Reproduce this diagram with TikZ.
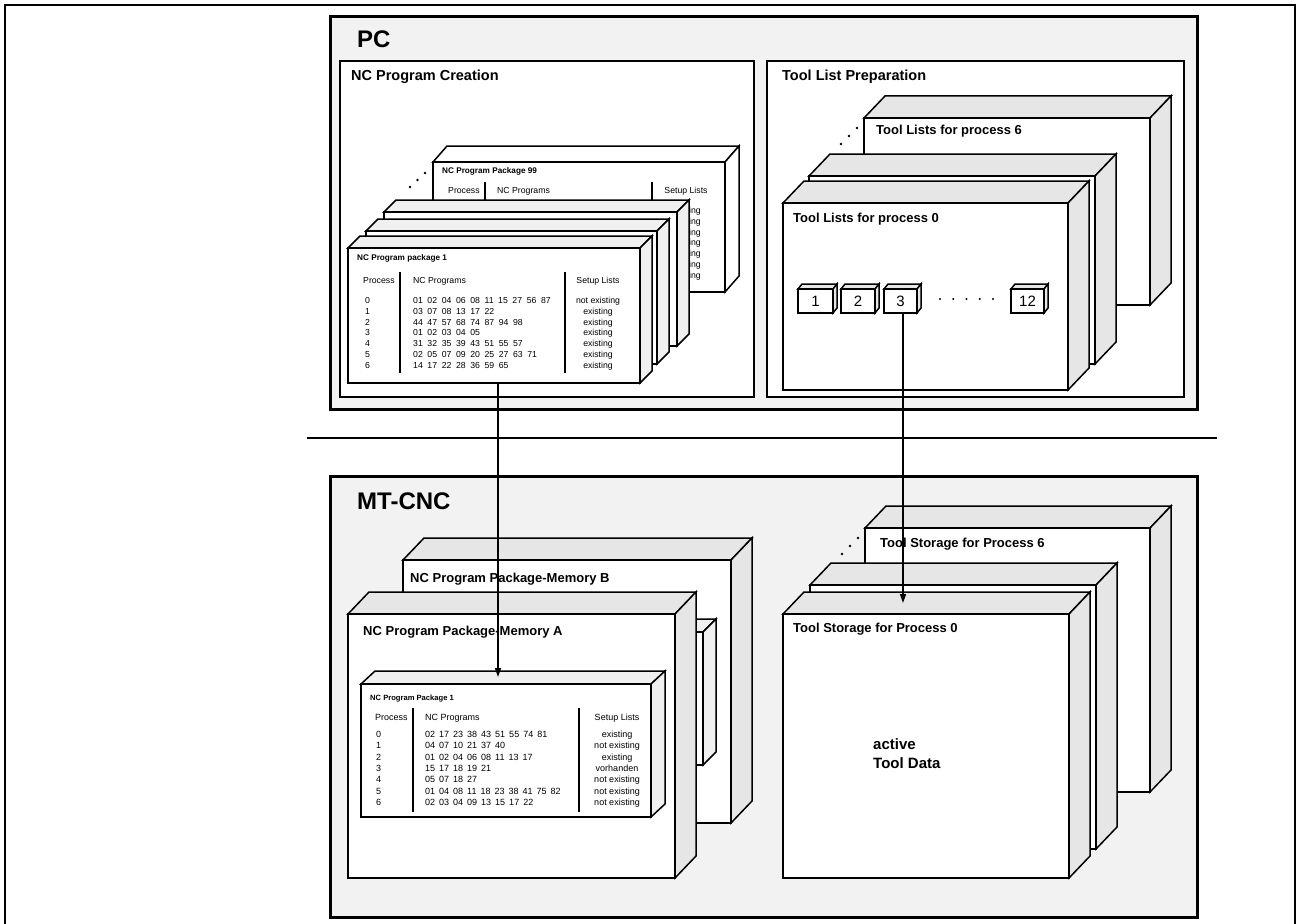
\documentclass[tikz,border=0pt]{standalone}
\usepackage{fontspec}
\setmainfont{Liberation Sans}
\usetikzlibrary{arrows.meta}

\definecolor{panel}{HTML}{F2F2F2}
\definecolor{face}{HTML}{E6E6E6}
\definecolor{lface}{HTML}{F0F0F0}

\newcommand\progsfontA{\fontsize{8.7}{10.8}\selectfont\spaceskip=4.6pt\relax}
\newcommand\progsfontM{\fontsize{9}{11.3}\selectfont\spaceskip=4pt\relax}

\tikzset{
  frame/.style={line width=1.8pt},
  section/.style={draw, line width=3pt, fill=panel},
  subsection/.style={draw, line width=1.8pt, fill=white},
  cubeline/.style={draw, line width=1.5pt},
  cubefront/.style={cubeline, fill=white, inner sep=0pt, outer sep=0pt},
  bigtitle/.style={font=\fontsize{24}{28}\selectfont\bfseries, inner sep=0pt, anchor=base west},
  title/.style={font=\fontsize{14.5}{17}\selectfont\bfseries, inner sep=0pt, anchor=base west},
  boxtitle/.style={font=\fontsize{13}{16}\selectfont\bfseries, inner sep=0pt, anchor=base west},
  pkgtitle/.style={font=\fontsize{8.2}{10}\selectfont\bfseries, inner sep=0pt, anchor=base west},
  pkgtitleM/.style={font=\fontsize{7.6}{10}\selectfont\bfseries, inner sep=0pt, anchor=base west},
  tblhead/.style={font=\fontsize{8.7}{10.8}\selectfont, inner sep=0pt, anchor=base west},
  tblheadM/.style={font=\fontsize{9}{11.3}\selectfont, inner sep=0pt, anchor=base west},
  tblN/.style={font=\fontsize{8.7}{10.8}\selectfont, inner sep=0pt, anchor=base west},
  tblA/.style={font=\fontsize{8.7}{10.8}\selectfont, inner sep=0pt, anchor=base west},
  progsA/.style={font=\progsfontA},
  tblM/.style={font=\fontsize{9}{11.3}\selectfont, inner sep=0pt, anchor=base west},
  progsM/.style={font=\progsfontM},
  tblrule/.style={line width=1.2pt},
  activetxt/.style={font=\fontsize{15}{19}\selectfont\bfseries, inner sep=0pt, anchor=base west},
  flow/.style={line width=1.5pt, -{Triangle[length=9pt,width=6pt]}},
  sep/.style={line width=1.5pt},
}

% rectangle node: style, name, x1, y1, x2, y2
\newcommand\rectnode[6]{%
  \node[#1, minimum width={(#5-#3)*1pt}, minimum height={(#6-#4)*1pt},
        anchor=north west, inner sep=0pt, outer sep=0pt] (#2) at (#3,#4) {};}

% 3D box: name, x1, y1, x2, y2, dx, dy, face colour, text
\newcommand\cubebox[9]{%
  \filldraw[cubeline, fill=#8] (#2,#3) -- (#2+#6,#3-#7) -- (#4+#6,#3-#7) -- (#4,#3) -- cycle;
  \filldraw[cubeline, fill=#8] (#4,#3) -- (#4+#6,#3-#7) -- (#4+#6,#5-#7) -- (#4,#5) -- cycle;
  \node[cubefront, minimum width={(#4-#2)*1pt}, minimum height={(#5-#3)*1pt},
        anchor=north west] (#1) at (#2,#3) {#9};}

\newcommand\toolnum{\fontsize{15}{18}\selectfont}

\begin{document}
\begin{tikzpicture}[x=1pt,y=-1pt]
\useasboundingbox (0,0) rectangle (1297,923);
\fill[white] (0,0) rectangle (1297,923);

% outer frame
\draw[frame] (5,930) -- (5,5) -- (1295,5) -- (1295,930);

% ================= PC =================
\rectnode{section}{pc}{330}{17}{1197}{409}
\node[bigtitle] (pctitle) at (357,48) {PC};

\rectnode{subsection}{nccreate}{340}{61}{754}{397}
\node[title] (nccreatetitle) at (351,81) {NC Program Creation};

\rectnode{subsection}{toolprep}{767}{61}{1184}{397}
\node[title] (toolpreptitle) at (782,81) {Tool List Preparation};

% --- package 99 (back)
\cubebox{pkgn}{433}{162}{725}{292}{14}{16}{white}{}
\node[pkgtitle] (pkgntitle) at (442,173) {NC Program Package 99};
\node[tblhead] (pkgnhproc) at (448,193) {Process};
\node[tblhead] (pkgnhprog) at (497,193) {NC Programs};
\node[tblhead, anchor=base] (pkgnhsetup) at (686,193) {Setup Lists};
\draw[tblrule] (485,182) -- (485,288);
\draw[tblrule] (652,182) -- (652,288);
\node[tblN, anchor=base] (pkgnsetup) at (686,213.5)
  {\begin{tabular}[t]{@{}c@{}}existing\\existing\\existing\\existing\\existing\\existing\\existing\end{tabular}};

% dots
\fill (410,187) circle[radius=1.3];
\fill (417.5,180) circle[radius=1.3];
\fill (425,173) circle[radius=1.3];

% --- intermediate packages
\cubebox{pkgc}{384}{212}{677}{346}{12}{12}{lface}{}
\cubebox{pkgb}{366}{231}{657}{364}{12}{12}{lface}{}

% --- package 1 (front)
\cubebox{pkga}{348}{248}{640}{383}{12}{12}{lface}{}
\node[pkgtitle] (pkgatitle) at (357,260) {NC Program package 1};
\node[tblhead] (pkgahproc) at (363,283) {Process};
\node[tblhead] (pkgahprog) at (413,283) {NC Programs};
\node[tblhead, anchor=base] (pkgahsetup) at (598,283) {Setup Lists};
\draw[tblrule] (400,272) -- (400,373);
\draw[tblrule] (565,272) -- (565,373);
\node[tblA] (pkgaproc) at (365,303.5)
  {\begin{tabular}[t]{@{}l@{}}0\\1\\2\\3\\4\\5\\6\end{tabular}};
\node[tblA, progsA] (pkgaprog) at (413,303.5)
  {\begin{tabular}[t]{@{}l@{}}01 02 04 06 08 11 15 27 56 87\\
   03 07 08 13 17 22\\
   44 47 57 68 74 87 94 98\\
   01 02 03 04 05\\
   31 32 35 39 43 51 55 57\\
   02 05 07 09 20 25 27 63 71\\
   14 17 22 28 36 59 65\end{tabular}};
\node[tblA, anchor=base] (pkgasetup) at (598,303.5)
  {\begin{tabular}[t]{@{}c@{}}not existing\\existing\\existing\\existing\\existing\\existing\\existing\end{tabular}};

% --- tool lists
\cubebox{tlsix}{864}{118}{1150}{305}{21}{22}{face}{}
\node[boxtitle] (tlsixtitle) at (876,135) {Tool Lists for process 6};
\fill (841,144) circle[radius=1.3];
\fill (849,136) circle[radius=1.3];
\fill (857,128) circle[radius=1.3];
\cubebox{tlmid}{809}{176}{1095}{364}{21}{22}{face}{}
\cubebox{tlzero}{783}{203}{1068}{390}{21}{22}{face}{}
\node[boxtitle] (tlzerotitle) at (793,222) {Tool Lists for process 0};

\cubebox{toolA}{798}{289}{833}{313}{4}{5}{face}{\toolnum 1}
\cubebox{toolB}{841}{289}{875}{313}{4}{5}{face}{\toolnum 2}
\cubebox{toolC}{884}{289}{917}{313}{4}{5}{face}{\toolnum 3}
\cubebox{toolL}{1011}{289}{1044}{313}{4}{5}{face}{\toolnum 12}
\foreach \dx in {940,953.25,966.5,979.75,993}
  \fill (\dx,299) circle[radius=1.2];

% separator
\draw[sep] (307,438) -- (1217,438);

% ================= MT-CNC =================
\rectnode{section}{mtcnc}{330}{476}{1197}{917}
\node[bigtitle] (mttitle) at (357,509) {MT-CNC};

% memory B
\cubebox{memb}{403}{560}{731}{823}{21}{22}{face}{}
\node[boxtitle] (membtitle) at (410,582) {NC Program Package-Memory B};
\cubebox{membpkg}{390}{632}{703}{765}{13}{13}{lface}{}

% memory A
\cubebox{mema}{348}{614}{675}{878}{21}{22}{face}{}
\node[boxtitle] (rematitle) at (363,635) {NC Program Package-Memory A};

% package in memory A
\cubebox{mempkg}{361}{684}{651}{817}{14}{13}{lface}{}
\node[pkgtitleM] (mempkgtitle) at (370,700) {NC Program Package 1};
\node[tblheadM] (mempkghproc) at (375,720) {Process};
\node[tblheadM] (mempkghprog) at (425,720) {NC Programs};
\node[tblheadM, anchor=base] (mempkghsetup) at (617,720) {Setup Lists};
\draw[tblrule] (413,708) -- (413,812);
\draw[tblrule] (579,708) -- (579,812);
\node[tblM] (mempkgproc) at (376,737.5)
  {\begin{tabular}[t]{@{}l@{}}0\\1\\2\\3\\4\\5\\6\end{tabular}};
\node[tblM, progsM] (mempkgprog) at (425,737.5)
  {\begin{tabular}[t]{@{}l@{}}02 17 23 38 43 51 55 74 81\\
   04 07 10 21 37 40\\
   01 02 04 06 08 11 13 17\\
   15 17 18 19 21\\
   05 07 18 27\\
   01 04 08 11 18 23 38 41 75 82\\
   02 03 04 09 13 15 17 22\end{tabular}};
\node[tblM, anchor=base] (mempkgsetup) at (617,737.5)
  {\begin{tabular}[t]{@{}c@{}}existing\\not existing\\existing\\vorhanden\\not existing\\not existing\\not existing\end{tabular}};

% tool storage
\cubebox{tssix}{865}{528}{1150}{792}{21}{22}{face}{}
\node[boxtitle] (tssixtitle) at (880,547) {Tool Storage for Process 6};
\fill (842,554) circle[radius=1.3];
\fill (850,546) circle[radius=1.3];
\fill (858,538) circle[radius=1.3];
\cubebox{tsmid}{810}{585}{1096}{849}{21}{22}{face}{}
\cubebox{tszero}{783}{614}{1069}{878}{21}{22}{face}{}
\node[boxtitle] (tszerotitle) at (793,632) {Tool Storage for Process 0};
\node[activetxt] (activedata) at (873,749)
  {\begin{tabular}[t]{@{}l@{}}active\\Tool Data\end{tabular}};

% ================= transfers =================
\coordinate (pkgin) at (498,677);
\coordinate (tsin) at (903,603);
\draw[flow] (pkga.south -| pkgin) -- (pkgin);
\draw[flow] (toolC.south -| tsin) -- (tsin);

\end{tikzpicture}
\end{document}
